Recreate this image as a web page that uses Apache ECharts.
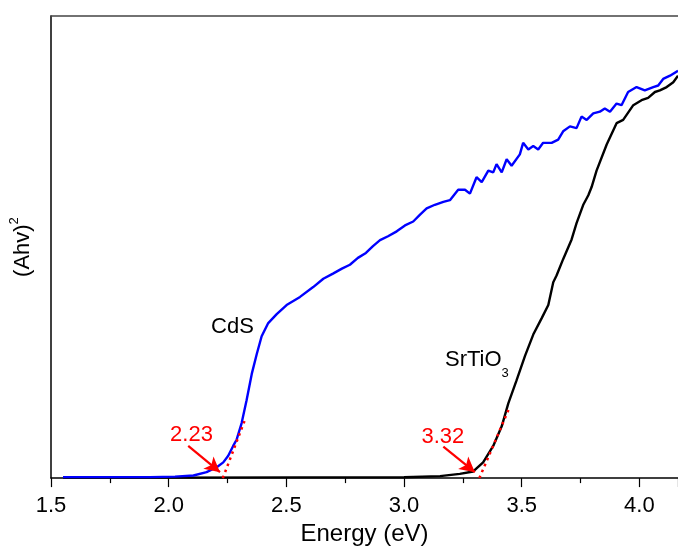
<!DOCTYPE html>
<html>
<head>
<meta charset="utf-8">
<script src="https://cdn.jsdelivr.net/npm/echarts@6/dist/echarts.min.js"></script>
<style>html,body{margin:0;padding:0;background:#fff}#c{width:678px;height:551px}</style>
</head>
<body>
<div id="c"></div>
<script>
// ---- data (x: Energy in eV, y: (Ahv)^2 in arbitrary units 0-100) ----
var cdsX = [1.551,1.708,1.921,2.027,2.105,2.161,2.204,2.232,2.253,2.274,2.289,2.310,2.331,2.353,2.374,2.395,2.423,2.459,2.501,2.558,2.614,2.657,2.698,2.736,2.770,2.804,2.838,2.868,2.898,2.932,2.969,3.004,3.039,3.068,3.096,3.131,3.167,3.195,3.230,3.259,3.280,3.308,3.330,3.358,3.379,3.393,3.415,3.436,3.457,3.492,3.506,3.528,3.549,3.570,3.591,3.627,3.655,3.676,3.705,3.733,3.754,3.776,3.804,3.832,3.853,3.875,3.903,3.924,3.952,3.988,4.023,4.059,4.080,4.101,4.130,4.164];
var cdsY = [0.21,0.21,0.21,0.32,0.57,1.28,2.34,3.40,4.83,6.96,8.36,11.91,16.87,22.55,26.81,30.70,33.55,35.47,37.45,39.21,41.34,43.13,44.26,45.32,46.17,47.66,48.72,50.21,51.49,52.34,53.40,54.68,55.53,57.02,58.36,59.15,59.79,60.15,62.40,62.40,61.55,65.11,64.04,66.53,66.17,67.94,66.17,69.00,67.60,70.06,72.55,71.13,71.85,71.13,72.55,72.55,73.26,75.04,76.11,75.74,78.23,77.51,78.94,79.30,80.00,79.30,81.06,80.70,83.55,84.62,83.89,84.62,84.96,86.38,87.09,88.15];

var stoX = [1.551,1.921,2.558,3.000,3.153,3.237,3.294,3.336,3.379,3.415,3.443,3.478,3.514,3.549,3.585,3.613,3.634,3.648,3.676,3.712,3.733,3.761,3.783,3.797,3.818,3.861,3.903,3.931,3.974,4.009,4.037,4.066,4.087,4.116,4.144,4.164];
var stoY = [0.10,0.10,0.15,0.20,0.43,0.91,1.43,3.40,6.96,11.21,16.17,21.13,26.45,31.06,34.62,37.45,42.40,43.83,47.38,51.64,55.17,59.09,61.21,62.98,66.53,72.19,76.81,77.51,80.70,81.77,82.28,83.55,83.89,84.62,85.68,87.09];

// tangent (band-gap extrapolation) lines
var cdsTangentX = [2.23, 2.324];
var cdsTangentY = [0, 12.6];
var stoTangentX = [3.32, 3.45];
var stoTangentY = [0, 15.5];

// annotation arrows: [fromX, fromY, toX, toY]
var arrows = [[2.083, 6.96, 2.218, 1.28], [3.167, 6.80, 3.301, 1.28]];

// text annotations
var annoText = ['CdS', 'SrTiO{sub|3}', '2.23', '3.32'];
var annoX = [2.271, 3.174, 2.097, 3.165];
var annoY = [32.8, 25.5, 9.4, 9.0];
var annoColor = ['#000000', '#000000', '#ff0000', '#ff0000'];
var annoAlign = ['center', 'left', 'center', 'center'];

var xTicks = [1.5, 2.0, 2.5, 3.0, 3.5, 4.0];

function zip(xs, ys) { return xs.map(function (x, i) { return [x, ys[i]]; }); }

var FONT = "'Liberation Sans', Arial, sans-serif";
var chart = echarts.init(document.getElementById('c'), null, {renderer: 'canvas'});

var annoData = annoText.map(function (t, i) {
  return {
    value: [annoX[i], annoY[i]],
    label: {
      show: true, position: 'inside', formatter: t, color: annoColor[i], align: annoAlign[i],
      fontSize: 22, fontFamily: FONT,
      rich: { sub: { fontSize: 13, fontFamily: FONT, color: annoColor[i], padding: [26, 0, 0, 0] } }
    }
  };
});

chart.setOption({
  animation: false,
  backgroundColor: '#ffffff',
  grid: { left: 51, top: 16, right: 0, bottom: 65 },
  xAxis: [{
    type: 'value', min: xTicks[0], max: 4.164, interval: 0.5,
    name: 'Energy (eV)', nameLocation: 'middle', nameGap: 40,
    nameTextStyle: { fontSize: 24, fontFamily: FONT, color: '#000' },
    axisLine: { show: true, onZero: false, lineStyle: { color: '#000', width: 1.5 } },
    axisTick: { show: true, inside: false, length: 9, lineStyle: { color: '#000', width: 1.2 } },
    minorTick: { show: true, splitNumber: 2, length: 5, lineStyle: { color: '#000', width: 1.2 } },
    axisLabel: { fontSize: 22, fontFamily: FONT, color: '#000', margin: 17, showMaxLabel: false,
      formatter: function (v) { return v.toFixed(1); } },
    splitLine: { show: false }
  }, {
    type: 'value', position: 'top', min: xTicks[0], max: 4.164,
    axisLine: { show: true, onZero: false, lineStyle: { color: '#444', width: 1.5 } },
    axisTick: { show: false }, axisLabel: { show: false }, splitLine: { show: false }
  }],
  yAxis: {
    type: 'value', min: 0, max: 100,
    name: '(Ahv){sup|2}', nameLocation: 'middle', nameGap: 14,
    nameTextStyle: { fontSize: 22, fontFamily: FONT, color: '#000',
      rich: { sup: { fontSize: 13, fontFamily: FONT, color: '#000', padding: [0, 0, 16, 0] } } },
    axisLine: { show: true, onZero: false, lineStyle: { color: '#000', width: 1.5 } },
    axisTick: { show: false }, axisLabel: { show: false }, splitLine: { show: false }
  },
  series: [
    { name: 'SrTiO3', type: 'line', data: zip(stoX, stoY), showSymbol: false, symbol: 'none',
      lineStyle: { color: '#000000', width: 2.4 }, z: 2 },
    { name: 'CdS', type: 'line', data: zip(cdsX, cdsY), showSymbol: false, symbol: 'none',
      lineStyle: { color: '#0000ff', width: 2.4 }, z: 3 },
    { name: 'tangentCdS', type: 'line', data: zip(cdsTangentX, cdsTangentY), showSymbol: false, symbol: 'none',
      lineStyle: { color: '#ff0000', width: 2.5, type: [2.5, 4] }, z: 4 },
    { name: 'tangentSTO', type: 'line', data: zip(stoTangentX, stoTangentY), showSymbol: false, symbol: 'none',
      lineStyle: { color: '#ff0000', width: 2.5, type: [2.5, 4] }, z: 4,
      markLine: {
        silent: true, animation: false, symbol: ['none', 'arrow'], symbolSize: [12, 15],
        label: { show: false },
        lineStyle: { color: '#ff0000', width: 2.2, type: 'solid' },
        data: arrows.map(function (a) { return [{ coord: [a[0], a[1]] }, { coord: [a[2], a[3]] }]; })
      } },
    { name: 'labels', type: 'scatter', data: annoData, symbolSize: 0, silent: true, z: 5,
      itemStyle: { opacity: 1 } }
  ]
});
</script>
</body>
</html>
